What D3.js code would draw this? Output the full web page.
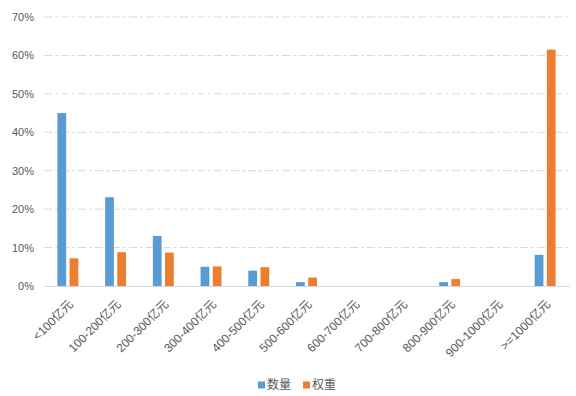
<!DOCTYPE html>
<html><head><meta charset="utf-8">
<script src="https://cdn.jsdelivr.net/npm/d3@7/dist/d3.min.js"></script>
<style>body{margin:0;background:#fff}svg{display:block}</style>
</head><body>
<script>
const categories = ["<100亿元","100-200亿元","200-300亿元","300-400亿元","400-500亿元","500-600亿元","600-700亿元","700-800亿元","800-900亿元","900-1000亿元",">=1000亿元"];
const countValues = [45.0, 23.1, 13.0, 5.0, 4.0, 1.0, 0, 0, 1.0, 0, 8.1];
const weightValues = [7.2, 8.8, 8.7, 5.1, 4.9, 2.2, 0, 0, 1.8, 0, 61.5];
const seriesNames = ["数量", "权重"];
const colors = ["#5b9bd5", "#ed7d31"];
const yTicks = [0, 10, 20, 30, 40, 50, 60, 70];

const W = 576, H = 396;
const m = {left: 44, right: 7, top: 17, bottom: 110};
const svg = d3.select("body").append("svg").attr("width", W).attr("height", H);
const x = d3.scaleBand().domain(categories).range([m.left, W - m.right]).padding(0);
const y = d3.scaleLinear().domain([0, 70]).range([H - m.bottom, m.top]);
const x1 = d3.scaleBand().domain(seriesNames).range([0, x.bandwidth()]).paddingInner(0.28).paddingOuter(1.1);

// gridlines
svg.append("g").selectAll("line").data(yTicks.filter(d => d > 0)).join("line")
  .attr("x1", m.left).attr("x2", W - m.right)
  .attr("y1", d => y(d)).attr("y2", d => y(d))
  .attr("stroke", "#d9d9d9").attr("stroke-width", 1)
  .attr("stroke-dasharray", "8,3,3,3");

// y axis labels
const yAxis = d3.axisLeft(y).tickValues(yTicks).tickFormat(d => d + "%").tickSize(0).tickPadding(10);
const ya = svg.append("g").attr("transform", `translate(${m.left},0)`).call(yAxis);
ya.select(".domain").remove();
ya.selectAll("text").attr("fill", "#595959").style("font-family", "Liberation Sans, Arial, sans-serif").style("font-size", "11px");

// bars
const data = categories.map((c, i) => ({c, vals: [countValues[i], weightValues[i]]}));
const g = svg.append("g").selectAll("g").data(data).join("g").attr("transform", d => `translate(${x(d.c)},0)`);
g.selectAll("rect").data(d => d.vals.map((v, j) => ({v, s: seriesNames[j], j}))).join("rect")
  .attr("x", d => x1(d.s)).attr("width", x1.bandwidth())
  .attr("y", d => y(d.v)).attr("height", d => y(0) - y(d.v))
  .attr("fill", d => colors[d.j]);

// x axis
const xAxis = d3.axisBottom(x).tickSize(0).tickPadding(0);
const xa = svg.append("g").attr("transform", `translate(0,${y(0)})`).call(xAxis);
xa.select(".domain").attr("stroke", "#d9d9d9");
xa.selectAll(".tick text")
  .attr("fill", "#595959")
  .style("font-family", "Liberation Sans, Arial, 'Noto Sans CJK SC', sans-serif").style("font-size", "12px")
  .attr("text-anchor", "end")
  .attr("x", 0).attr("y", 0).attr("dy", "0.35em")
  .attr("transform", "translate(3,16) rotate(-45)");

// legend
const leg = svg.append("g").attr("transform", `translate(258,${385})`);
seriesNames.forEach((s, i) => {
  const lg = leg.append("g").attr("transform", `translate(${i * 45},0)`);
  lg.append("rect").attr("x", 0).attr("y", -3.5).attr("width", 7).attr("height", 7).attr("fill", colors[i]);
  lg.append("text").attr("x", 9).attr("y", 0).attr("dy", "0.35em").text(s)
    .attr("fill", "#595959").style("font-family", "'Noto Sans CJK SC', sans-serif").style("font-size", "12px");
});
</script>
</body></html>
